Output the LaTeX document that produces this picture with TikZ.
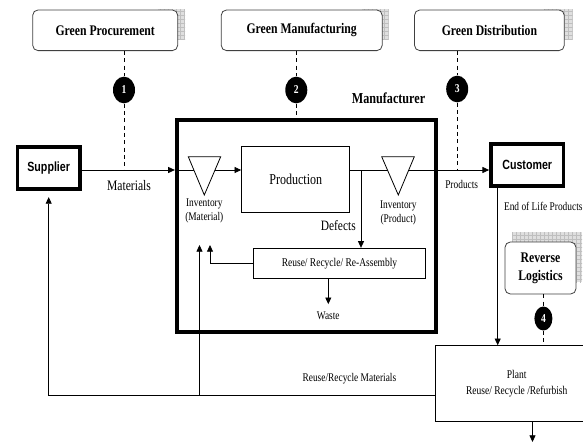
\documentclass[tikz,border=0pt]{standalone}
\usepackage{fontspec}
\setmainfont[FakeStretch=0.8]{Liberation Serif}
\setsansfont[FakeStretch=0.8]{Liberation Sans}
\usetikzlibrary{arrows.meta,shapes.geometric,patterns}
\begin{document}
\begin{tikzpicture}[x=0.75pt,y=-0.75pt,
  arr/.style={-{Triangle[length=5pt,width=4.5pt]}},
  flow/.style={line width=0.6pt},
  dashline/.style={line width=0.6pt, dash pattern=on 3pt off 2.5pt},
  greenbox/.style={draw=black!75, line width=0.6pt, rounded corners=4pt, fill=white,
    inner sep=0pt, minimum height=30.5pt, font=\fontsize{11}{13}\selectfont\bfseries},
  badge/.style={ellipse, fill=black, text=white, inner sep=0pt,
    minimum width=16.5pt, minimum height=20pt, font=\fontsize{9}{10}\selectfont\bfseries},
  heavybox/.style={draw, line width=2.8pt, inner sep=0pt, fill=white,
    font=\sffamily\bfseries\fontsize{10}{12}\selectfont},
  plainbox/.style={draw, line width=0.7pt, fill=white, inner sep=0pt},
  lbl/.style={inner sep=0pt, align=center, font=\fontsize{8.8}{10.7}\selectfont},
  biglbl/.style={inner sep=0pt, font=\fontsize{10.9}{13}\selectfont},
  shade/.style={fill=gray!25},
  shadegrid/.style={pattern=grid, pattern color=gray!50}
]
\useasboundingbox (0,0) rectangle (583,443);
\clip (0,0) rectangle (583,443);

% shadows
\foreach \a/\b/\c/\d in {158/9/185/39, 362/9/388.5/39, 544/9/572.5/39, 512/232/582/282}{
  \fill[shade] (\a,\b) rectangle (\c,\d);
  \fill[shadegrid] (\a,\b) rectangle (\c,\d);
}

% top boxes
\node[greenbox, minimum width=108.75pt] (gp) at (105.2,30.3) {Green Procurement};
\node[greenbox, minimum width=120.75pt] (gm) at (301.7,30.3) {Green Manufacturing};
\node[greenbox, minimum width=112.35pt] (gd) at (489.4,30.3) {Green Distribution};

% badges
\node[badge] (n1) at (124,90) {1};
\node[badge] (n2) at (296.3,90) {2};
\node[badge] (n3) at (457.2,89) {3};

\node[inner sep=0pt, font=\fontsize{11.4}{13}\selectfont\bfseries] (mlabel) at (388.5,98.3) {Manufacturer};

% manufacturer box
\node[draw, line width=3.2pt, inner sep=0pt, minimum width=194.25pt, minimum height=159pt] (mfg) at (306.5,226) {};

\coordinate (flow) at (0,170);

% supplier / customer
\node[heavybox, minimum width=47pt, minimum height=31.8pt] (sup) at (48.7,168) {Supplier};
\node[heavybox, minimum width=54.3pt, minimum height=31.3pt] (cust) at (527.2,164.8) {Customer};

% production and reuse
\node[plainbox, minimum width=81.2pt, minimum height=49.5pt, font=\fontsize{11.3}{13}\selectfont] (prod) at (295.8,179.7) {Production};
\node[plainbox, minimum width=129.3pt, minimum height=22.5pt, font=\fontsize{8.9}{10}\selectfont] (reuse) at (339.5,263.3) {Reuse/ Recycle/ Re-Assembly};

% plant
\node[plainbox, minimum width=121.5pt, minimum height=57pt, align=center, font=\fontsize{8.9}{11.5}\selectfont] (plant) at (516.7,383.7) {Plant\\Reuse/ Recycle /Refurbish};

% reverse logistics
\node[greenbox, minimum width=53.25pt, minimum height=39pt, align=center, font=\fontsize{11}{13.7}\selectfont\bfseries] (rl) at (540.5,268) {Reverse\\Logistics};
\node[badge, minimum width=13.5pt, minimum height=18pt] (n4) at (543.4,318.5) {4};

% dashed links
\draw[dashline] (n1 |- gp.south) -- (n1);
\draw[dashline] (n1) -- (n1 |- flow);
\draw[dashline] (n2 |- gm.south) -- (n2);
\draw[dashline] (n2) -- (n2 |- mfg.north);
\draw[dashline] (n3 |- gd.south) -- (n3);
\draw[dashline] (n3) -- (n3 |- flow);
\draw[dashline] (n4 |- rl.south) -- (n4);
\draw[dashline] (n4) -- (n4 |- plant.north);

% main flow
\draw[flow,arr] (sup.east |- flow) -- (mfg.west |- flow);
\draw[flow,arr] (mfg.west |- flow) -- (prod.west |- flow);
\draw[flow,arr] (prod.east |- flow) -- (cust.west |- flow);

% inventory triangles
\draw[flow, fill=white] (188.3,156.7) -- (220.7,156.7) -- (204.3,195) -- cycle;
\draw[flow, fill=white] (381.7,156.7) -- (414.3,156.7) -- (398.3,195) -- cycle;
\node[lbl] (inv1) at (204.3,211.2) {Inventory\\(Material)};
\node[lbl] (inv2) at (398.3,213) {Inventory\\(Product)};

% defects
\coordinate (dj) at (361,170);
\draw[flow,arr] (dj) -- (dj |- reuse.north);
\node[biglbl, font=\fontsize{10.7}{12}\selectfont] (defects) at (338.3,226) {Defects};

% reuse feedback
\coordinate (ret1) at (210,245);
\draw[flow,arr] (reuse.west) -| (ret1);

% waste
\node[lbl] (waste) at (328.3,315.7) {Waste};
\draw[flow,arr,shorten >=5.5pt] (reuse.south -| waste) -- (waste.north);

% return loop
\coordinate (lp1) at (48.7,395);
\coordinate (lp2) at (199.5,395);
\coordinate (ret2) at (199.5,245);
\draw[flow,arr] (plant.west |- lp1) -| ([yshift=-4.5pt]sup.south);
\draw[flow,arr] (lp2) -- (ret2);

% customer to plant
\coordinate (eol) at (497.7,0);
\draw[flow,arr] (cust.south -| eol) -- (plant.north -| eol);

% plant output
\coordinate (pout) at (532.5,442);
\draw[flow,arr] (plant.south -| pout) -- (pout);

% labels
\node[biglbl] (materials) at (129,186) {Materials};
\node[lbl] (products) at (461.7,184) {Products};
\node[lbl] (eoltext) at (543.3,206.7) {End of Life Products};
\node[lbl] (rrm) at (349.4,378.3) {Reuse/Recycle Materials};
\end{tikzpicture}
\end{document}
